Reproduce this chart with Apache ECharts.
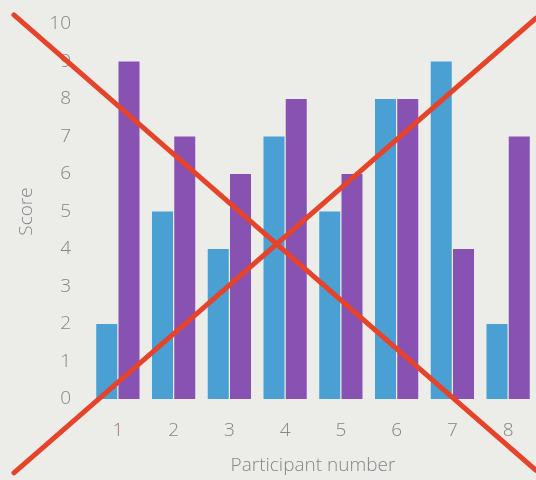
<!DOCTYPE html>
<html>
<head>
<meta charset="utf-8">
<script src="https://cdn.jsdelivr.net/npm/echarts@6/dist/echarts.min.js"></script>
<style>
html,body{margin:0;padding:0;background:#ecece8;}
#c{width:536px;height:480px;}
</style>
</head>
<body>
<div id="c"></div>
<script>
const categories = ['1','2','3','4','5','6','7','8'];
const seriesA = [2,5,4,7,5,8,9,2];
const seriesB = [9,7,6,8,6,8,4,7];
const yTicks = [0,1,2,3,4,5,6,7,8,9,10];

const chart = echarts.init(document.getElementById('c'));
const W = chart.getWidth(), H = chart.getHeight();
const font = "'Open Sans', 'Noto Sans', sans-serif";
const grey = '#85858a';

chart.setOption({
  backgroundColor: '#ecece8',
  animation: false,
  grid: {left: 90, top: 24, width: 453, height: 375},
  xAxis: {
    type: 'category',
    data: categories.map((c, i) => i === 0 ? {value: c, textStyle: {color: '#a8765e'}} : c),
    axisLine: {show: false},
    axisTick: {show: false},
    axisLabel: {color: grey, fontSize: 19, fontFamily: font, fontWeight: 300, margin: 22},
    name: 'Participant number',
    nameLocation: 'middle',
    nameGap: 57,
    nameTextStyle: {color: grey, fontSize: 19, fontFamily: font, fontWeight: 300}
  },
  yAxis: {
    type: 'value',
    min: yTicks[0],
    max: yTicks[yTicks.length - 1],
    interval: 1,
    splitLine: {show: false},
    axisLine: {show: false},
    axisTick: {show: false},
    axisLabel: {color: grey, fontSize: 19, fontFamily: font, fontWeight: 300, margin: 19},
    name: 'Score',
    nameLocation: 'middle',
    nameGap: 54,
    nameTextStyle: {color: grey, fontSize: 19, fontFamily: font, fontWeight: 300}
  },
  series: [
    {type: 'bar', data: seriesA, barWidth: 21, barGap: '6%', itemStyle: {color: '#4a9fd3'}},
    {type: 'bar', data: seriesB, barWidth: 21, barGap: '6%', itemStyle: {color: '#8852b3'}}
  ],
  graphic: [
    {type: 'line', z: 100, shape: {x1: W*0.026, y1: H*0.031, x2: W, y2: H*0.98},
     style: {stroke: '#e6432b', lineWidth: 5, lineCap: 'round'}},
    {type: 'line', z: 100, shape: {x1: W*0.026, y1: H*0.985, x2: W, y2: H*0.038},
     style: {stroke: '#e6432b', lineWidth: 5, lineCap: 'round'}}
  ]
});
</script>
</body>
</html>
